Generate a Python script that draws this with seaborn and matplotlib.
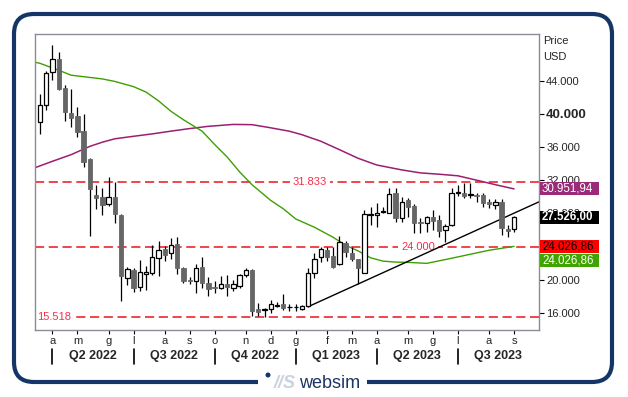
import numpy as np
import pandas as pd
import seaborn as sns
import matplotlib.pyplot as plt
from matplotlib.patches import FancyBboxPatch, Rectangle, Circle

sns.set_style("white")
plt.rcParams["font.family"] = ["Liberation Sans", "DejaVu Sans"]

# weekly candles, first week starts monday 14 march 2022
weeks = pd.date_range("2022-03-14", periods=77, freq="W-MON")

opens = [38975, 41024, 45000, 46600, 43108, 40096, 39735, 37964, 34590, 30253,
         29976, 29096, 29976, 27807, 20181, 21181, 19096, 20735, 20855, 22590,
         23711, 23193, 24313, 21386, 20012, 19819, 21506, 19651, 19169, 19048,
         19458, 19048, 19253, 20542, 21181, 16482, 16420, 16482, 16880, 17048,
         16680, 16680, 16482, 16843, 20855, 22783, 23590, 22907, 21900, 24394,
         23189, 22466, 20859, 27850, 27807, 28150, 28008, 30497, 27406, 29614,
         28891, 26964, 26803, 27526, 27205, 26000, 26602, 30418, 30418, 30217,
         30217, 30257, 29413, 29012, 29413, 26120, 26080]
highs = [42350, 45190, 48290, 47445, 43470, 42990, 40783, 39976, 34710, 31421,
         31024, 32422, 31747, 27900, 21578, 21458, 22385, 21627, 24157, 24675,
         24036, 25036, 25120, 21500, 20373, 21904, 22783, 20373, 19819, 20458,
         20578, 19976, 20663, 21386, 21250, 17169, 16639, 17566, 17361, 18289,
         17048, 17048, 16950, 21386, 23265, 23916, 23916, 23912, 25277, 24700,
         23912, 22500, 28409, 28811, 29213, 28730, 31020, 31020, 29936, 29815,
         29132, 27406, 27727, 28409, 27807, 26683, 31020, 31421, 31622, 31702,
         30418, 30418, 29695, 29695, 29695, 26602, 27687]
lows = [37530, 40460, 44070, 42900, 39170, 38445, 37240, 33626, 25313, 28530,
        27807, 28891, 26807, 17482, 19410, 18494, 18687, 18807, 20578, 20458,
        22265, 22506, 20663, 19651, 19458, 18446, 19048, 18048, 18373, 18855,
        18048, 18651, 19048, 20373, 15600, 15675, 15518, 15964, 16687, 16361,
        16241, 16241, 16400, 16763, 20181, 22184, 22300, 21381, 21800, 22787,
        22300, 19494, 20779, 26602, 26401, 28000, 28008, 27004, 27004, 27606,
        25678, 25678, 25799, 26000, 25116, 24594, 26522, 30100, 29815, 29815,
        29373, 28811, 28610, 28490, 25397, 25196, 25799]
closes = [41024, 44915, 46570, 43024, 40253, 39530, 37843, 34156, 30903, 29819,
          29012, 29976, 27891, 20494, 21301, 19048, 20904, 20940, 22711, 23590,
          23024, 24229, 21386, 19891, 19819, 21386, 19578, 18855, 18976, 19458,
          19169, 19494, 20578, 21181, 16241, 16157, 16490, 17048, 17000, 16566,
          16740, 16740, 16880, 20783, 22506, 23671, 22787, 21582, 24554, 23389,
          22466, 21381, 27888, 27930, 28088, 28250, 30297, 27406, 29333, 28811,
          26883, 26803, 27526, 27124, 25919, 26482, 30418, 30538, 30096, 30297,
          30096, 29213, 29092, 29333, 26201, 25919, 27526]

# moving averages (week index, value)
ma_fast_weeks = [-1, 0, 3, 5, 8, 10, 12, 15, 17, 19, 21, 23, 26, 28, 30, 32, 34, 37,
                 39, 41, 44, 47, 49, 51, 53, 55, 57, 59, 62, 65, 68, 72, 76]
ma_fast_vals = [46250, 46080, 45250, 44650, 44380, 44200, 43900, 43270, 42620, 41560,
                40300, 39280, 37900, 36300, 34800, 33000, 31450, 29560, 28560, 27330,
                26330, 25120, 24160, 23480, 22650, 22250, 22130, 22100, 21980, 22440,
                22920, 23560, 24027]
ma_slow_weeks = [-1, 2, 5, 8, 10, 12, 15, 18, 21, 24, 27, 31, 34, 37, 40, 42, 45, 48,
                 51, 54, 58, 61, 64, 67, 70, 73, 76]
ma_slow_vals = [33450, 34280, 35080, 36080, 36580, 36990, 37290, 37580, 37910, 38220,
                38490, 38720, 38690, 38310, 37900, 37480, 36700, 35680, 34640, 33830,
                33240, 32880, 32720, 32530, 32000, 31460, 30952]

levels = [31833, 24000, 15518]
level_text_week = [43.3, 60.6, -0.5]

trend_anchor = [43, 51]   # trendline through these lows

tag_vals = [30951.94, 27526.00, 24026.86, 24026.86]
tag_colors = ["#9b2a78", "#000000", "#ff0000", "#3fa400"]
tag_text_colors = ["white", "white", "black", "white"]
tag_shift = [0, 0, 0, -1720]

month_letters = ["g", "f", "m", "a", "m", "g", "l", "a", "s", "o", "n", "d"]
quarters = ["Q2 2022", "Q3 2022", "Q4 2022", "Q1 2023", "Q2 2023", "Q3 2023"]

opens, highs = np.array(opens), np.array(highs)
lows, closes = np.array(lows), np.array(closes)
x = np.arange(len(weeks))
xmax = 80.0

fig = plt.figure(figsize=(6.28, 3.97), dpi=100)
ax = fig.add_axes([35 / 628, 1 - 330 / 397, 504 / 628, 296 / 397])

# horizontal levels
for lv, tx in zip(levels, level_text_week):
    ax.axhline(lv, color="#e8141e", lw=1.1, dashes=(6, 3), zorder=1)
    lab = f"{lv:,}".replace(",", ".")
    ha = "left" if tx < 0 else "center"
    ax.text(tx, lv, lab, color="#ff2b4a", fontsize=8, ha=ha, va="center", zorder=1.5,
            bbox=dict(boxstyle="square,pad=0.25", fc="white", ec="none"))

# moving averages
sns.lineplot(x=ma_slow_weeks, y=ma_slow_vals, color="#9b1f70", lw=1.1, ax=ax, zorder=1.8)
sns.lineplot(x=ma_fast_weeks, y=ma_fast_vals, color="#3f9f00", lw=1.0, ax=ax, zorder=1.8)

# trendline
t0, t1 = trend_anchor
slope = (lows[t1] - lows[t0]) / (t1 - t0)
tx = np.array([t0, xmax])
ax.plot(tx, lows[t0] + slope * (tx - t0), color="black", lw=1.0, zorder=1.9)

# candles
up = closes >= opens
ax.vlines(x, lows, highs, color="black", lw=0.9, zorder=2)
ax.bar(x[up], closes[up] - opens[up], bottom=opens[up], width=0.7,
       color="white", edgecolor="black", lw=0.9, zorder=3)
ax.bar(x[~up], opens[~up] - closes[~up], bottom=closes[~up], width=0.7,
       color="#666666", edgecolor="#666666", lw=0.6, zorder=3)

ax.set_xlim(-0.8, xmax)
ax.set_ylim(13952, 49614)

for s in ax.spines.values():
    s.set_color("#8c8c9a")
    s.set_linewidth(1)

# right price axis
yt = np.arange(16000, 44001, 4000)
ax.yaxis.tick_right()
ax.set_yticks(yt)
ax.set_yticklabels([f"{v:,}".replace(",", ".") for v in yt])
ax.tick_params(axis="y", length=3.3, width=0.8, color="black", pad=1.8,
               labelsize=8, direction="out", right=True, left=False)
for lbl, v in zip(ax.get_yticklabels(), yt):
    if v == 40000:
        lbl.set_fontweight("bold")
        lbl.set_fontsize(9.5)
ax.set_ylabel("")
ax.text(1.0079, 0.976, "Price", transform=ax.transAxes, fontsize=8, va="center")
ax.text(1.0079, 0.922, "USD", transform=ax.transAxes, fontsize=8, va="center")

# value tags
ytr = ax.get_yaxis_transform()
hpx = (49614 - 13952) / 296
for v, c, tc, sh in zip(tag_vals, tag_colors, tag_text_colors, tag_shift):
    yc = v + sh
    ax.add_patch(Rectangle((1.002, yc - 6.4 * hpx), 59 / 504, 12.8 * hpx, transform=ytr,
                           fc=c, ec="none", clip_on=False, zorder=5))
    s = f"{v:,.2f}".replace(",", "X").replace(".", ",").replace("X", ".")
    ax.text(1.006, yc, s, transform=ytr, color=tc, fontsize=8.3, va="center", ha="left",
            fontweight="bold" if c == "#000000" else "normal", zorder=6, clip_on=False)

# month ticks: week containing the 1st of each month
start = weeks[0]
months = pd.date_range("2022-04-01", "2023-09-01", freq="MS")
mpos = [int((m - start).days // 7) for m in months]
ax.set_xticks(mpos)
ax.set_xticklabels([month_letters[m.month - 1] for m in months])
ax.tick_params(axis="x", length=3, width=0.8, color="black", pad=1.5, labelsize=8,
               direction="out", bottom=True)
ax.set_xlabel("")

# quarter separators and labels
xtr = ax.get_xaxis_transform()
qstarts = [int((q - start).days // 7) for q in pd.date_range("2022-04-01", "2023-10-01", freq="QS")]
for i, q in enumerate(quarters):
    ax.plot([qstarts[i], qstarts[i]], [-0.064, -0.115], transform=xtr, color="black",
            lw=1.2, clip_on=False)
    ax.text((qstarts[i] + qstarts[i + 1]) / 2, -0.088, q, transform=xtr, ha="center",
            va="center", fontsize=9, fontweight="bold", clip_on=False)

# outer frame and logo
frame = FancyBboxPatch((0.14, 0.15), 5.98, 3.68, boxstyle="round,pad=0,rounding_size=0.2",
                       transform=fig.dpi_scale_trans, fc="none", ec="#143566", lw=3)
fig.add_artist(frame)
fig.add_artist(Rectangle((2.58, 0.08), 1.09, 0.14, transform=fig.dpi_scale_trans,
                         fc="white", ec="none"))
fig.add_artist(Circle((2.68, 0.22), 0.025, transform=fig.dpi_scale_trans,
                      fc="#143566", ec="none"))
fig.text(2.85, 0.14, "//S", transform=fig.dpi_scale_trans, fontsize=13, style="italic",
         fontweight="bold", color="#c9d3df", ha="center", va="center")
fig.text(3.30, 0.14, "websim", transform=fig.dpi_scale_trans, fontsize=13,
         color="#1b3564", ha="center", va="center")

fig.savefig("out.png", dpi=100)
